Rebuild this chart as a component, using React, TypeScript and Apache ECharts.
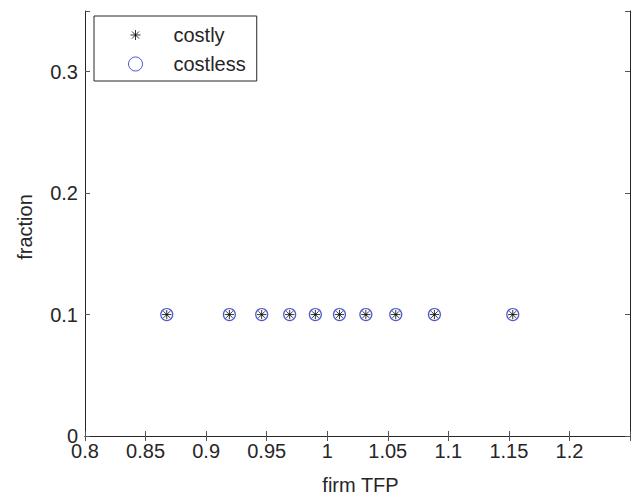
import React, { useEffect, useRef } from "react";
import * as echarts from "echarts";

const tfp = [0.8675, 0.9192, 0.9459, 0.969, 0.9902, 1.0101, 1.0319, 1.0566, 1.0885, 1.1532];
const costly = [0.1, 0.1, 0.1, 0.1, 0.1, 0.1, 0.1, 0.1, 0.1, 0.1];
const costless = [0.1, 0.1, 0.1, 0.1, 0.1, 0.1, 0.1, 0.1, 0.1, 0.1];
const xTickLabels = ["0.8", "0.85", "0.9", "0.95", "1", "1.05", "1.1", "1.15", "1.2"];
const yTickLabels = ["0", "0.1", "0.2", "0.3"];
const seriesNames = ["costly", "costless"];

const STAR =
  "path://M-1.4,-1.4M1.4,1.4M0,-1L0,1M-1,0L1,0M-0.71,-0.71L0.71,0.71M-0.71,0.71L0.71,-0.71";
const FONT = "'Liberation Sans', Arial, Helvetica, sans-serif";
const TXT = "#262626";

export default function App() {
  const ref = useRef<HTMLDivElement>(null);
  useEffect(() => {
    if (!ref.current) return;
    const chart = echarts.init(ref.current, null, { renderer: "svg" });
    const fmt = (list: string[]) => (v: number) => {
      const s = String(+Number(v).toFixed(2));
      return list.includes(s) ? s : "";
    };
    const axisCommon = {
      min: 0.8,
      max: 1.25,
      interval: 0.05,
      splitLine: { show: false },
      axisLine: { show: true, lineStyle: { color: TXT, width: 1 } },
      axisTick: { show: true, inside: true, length: 5, lineStyle: { color: "#555", width: 1 } },
    };
    const yCommon = {
      min: 0,
      max: 0.35,
      interval: 0.1,
      splitLine: { show: false },
      axisLine: { show: true, lineStyle: { color: TXT, width: 1 } },
      axisTick: { show: true, inside: true, length: 5, lineStyle: { color: "#555", width: 1 } },
    };
    chart.setOption({
      animation: false,
      backgroundColor: "#fff",
      textStyle: { fontFamily: FONT },
      grid: { left: 85, top: 11, right: -1, bottom: 58, containLabel: false },
      xAxis: [
        {
          type: "value",
          position: "bottom",
          ...axisCommon,
          name: "firm TFP",
          nameLocation: "middle",
          nameGap: 39,
          nameTextStyle: { fontSize: 20, color: TXT, fontFamily: FONT, padding: [0, 0, 0, 6] },
          axisLabel: {
            fontSize: 20,
            lineHeight: 14,
            color: TXT,
            fontFamily: FONT,
            margin: 8,
            formatter: fmt(xTickLabels),
          },
        },
        {
          type: "value",
          position: "top",
          ...axisCommon,
          axisLabel: { show: false },
        },
      ],
      yAxis: [
        {
          type: "value",
          position: "left",
          ...yCommon,
          name: "fraction",
          nameLocation: "middle",
          nameGap: 50,
          nameTextStyle: { fontSize: 20, color: TXT, fontFamily: FONT, padding: [0, 7, 0, 0] },
          axisLabel: {
            fontSize: 20,
            lineHeight: 14,
            color: TXT,
            fontFamily: FONT,
            margin: 7,
            formatter: fmt(yTickLabels),
          },
        },
        {
          type: "value",
          position: "right",
          ...yCommon,
          axisLabel: { show: false },
        },
      ],
      legend: {
        left: 94,
        top: 16,
        orient: "vertical",
        padding: [9, 11, 7, 34],
        itemWidth: 14,
        itemHeight: 14,
        itemGap: 9,
        borderColor: TXT,
        borderWidth: 1,
        backgroundColor: "#fff",
        itemStyle: { borderWidth: 1 },
        textStyle: { fontSize: 20, color: TXT, fontFamily: FONT, padding: [0, 0, 0, 26] },
        data: [
          { name: seriesNames[0], icon: STAR },
          { name: seriesNames[1], icon: "circle" },
        ],
      },
      series: [
        {
          name: seriesNames[0],
          type: "scatter",
          data: tfp.map((x, i) => [x, costly[i]]),
          symbol: STAR,
          symbolSize: 13,
          itemStyle: { color: "rgba(0,0,0,0)", borderColor: "#000", borderWidth: 1 },
          z: 3,
        },
        {
          name: seriesNames[1],
          type: "scatter",
          data: tfp.map((x, i) => [x, costless[i]]),
          symbol: "circle",
          symbolSize: 12,
          itemStyle: { color: "rgba(0,0,0,0)", borderColor: "#1f33c0", borderWidth: 1.2 },
          z: 2,
        },
      ],
    });
    return () => chart.dispose();
  }, []);
  return (
    <div
      ref={ref}
      style={{ position: "absolute", left: 0, top: 0, width: 633, height: 500 }}
    />
  );
}
